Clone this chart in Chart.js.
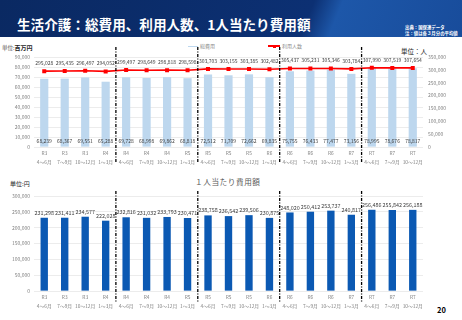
<!DOCTYPE html>
<html>
<head>
<meta charset="utf-8">
<script src="https://cdn.jsdelivr.net/npm/chart.js@4.4.0/dist/chart.umd.min.js"></script>
<style>
  html, body { margin: 0; padding: 0; }
  body { width: 462px; height: 320px; position: relative; overflow: hidden; background: #fff;
         font-family: "Noto Sans CJK JP", "Noto Sans", sans-serif; }
  .header { position: absolute; left: 0; top: 0; width: 462px; height: 37px;
            background: linear-gradient(112deg, #0a2962 0%, #0c3073 66%, #1d57a9 72%, #184c9b 100%); }
  .title { position: absolute; left: 17px; top: 14px; color: #fff; font-size: 13.6px; font-weight: bold; white-space: nowrap; }
  .src { position: absolute; left: 405px; color: #fff; font-size: 4.4px; font-weight: bold; white-space: nowrap; }
  .txt { position: absolute; white-space: nowrap; }
  canvas { position: absolute; left: 0; }
</style>
</head>
<body>
<div class="header">
  <div class="title">生活介護：総費用、利用人数、1人当たり費用額</div>
  <div class="src" style="top:24px">出典：国保連データ</div>
  <div class="src" style="top:30px">注：値は各３月分の平均値</div>
</div>

<div class="txt" style="left:2px;top:43px;font-size:5.5px;color:#595959">単位:<b style="color:#262626;font-size:6px">百万円</b></div>
<div class="txt" style="left:188px;top:45.5px;width:10px;height:1.6px;background:#bdd7ee"></div>
<div class="txt" style="left:200px;top:42px;font-size:5px;color:#8c8c8c">総費用</div>
<div class="txt" style="left:268px;top:45.3px;width:12px;height:1.6px;background:#ff0000"></div>
<div class="txt" style="left:272.5px;top:44.5px;width:3px;height:3px;background:#ff0000"></div>
<div class="txt" style="left:282px;top:42px;font-size:5px;color:#8c8c8c">利用人数</div>
<div class="txt" style="left:401px;top:46px;font-size:6.5px;color:#262626">単位：人</div>

<div class="txt" style="left:10px;top:179px;font-size:6px;color:#262626">単位:円</div>
<div class="txt" style="left:195px;top:176px;font-size:7.6px;color:#595959;letter-spacing:0.6px">１人当たり費用額</div>
<div class="txt" style="left:437px;top:304px;font-size:7.5px;font-weight:bold;color:#000">20</div>

<canvas id="topChart" width="462" height="130" style="top:40px"></canvas>
<canvas id="bottomChart" width="462" height="148" style="top:172px"></canvas>

<script>
const eras = ['R3', 'R3', 'R3', 'R4', 'R4', 'R4', 'R4', 'R5', 'R5', 'R5', 'R5', 'R6', 'R6', 'R6', 'R6', 'R7', 'R7', 'R7', 'R7'];
const periods = ['4～6月', '7～9月', '10～12月', '1～3月', '4～6月', '7～9月', '10～12月', '1～3月',
                 '4～6月', '7～9月', '10～12月', '1～3月', '4～6月', '7～9月', '10～12月', '1～3月',
                 '4～6月', '7～9月', '10～12月'];
const totalCost = [68239, 68367, 69551, 65288, 69728, 68998, 69862, 68818, 72512, 71709, 72662, 69835,
                   75755, 76433, 77477, 73156, 78995, 78676, 78817];
const users = [295028, 295435, 296497, 294052, 299497, 298649, 298818, 298598, 303703, 303155, 303385, 302482,
               305437, 305231, 305346, 303784, 307990, 307519, 307654];
const costPerUser = [231298, 231411, 234577, 222028, 232816, 231032, 233793, 230471, 238758, 236542, 239506, 230875,
                     248020, 250412, 253737, 240817, 256486, 255842, 256188];
const yearBreaks = [3, 7, 11, 15];   // separator after these indexes

const fmt = v => v.toLocaleString('en-US');
const FONT = '"Noto Sans CJK JP", "Noto Sans", sans-serif';

// dash-dot lines between fiscal years
const separators = {
    id: 'separators',
    afterDatasetsDraw(chart, args, opts) {
        const ctx = chart.ctx;
        const x = chart.scales.x;
        ctx.save();
        ctx.strokeStyle = '#000';
        ctx.lineWidth = 1.3;
        ctx.setLineDash([3, 1.5, 1, 1.5]);
        yearBreaks.forEach(i => {
            const px = (x.getPixelForValue(i) + x.getPixelForValue(i + 1)) / 2;
            ctx.beginPath();
            ctx.moveTo(px, opts.top);
            ctx.lineTo(px, opts.bottom);
            ctx.stroke();
        });
        ctx.restore();
    }
};

// value labels
const valueLabels = {
    id: 'valueLabels',
    afterDatasetsDraw(chart, args, opts) {
        const ctx = chart.ctx;
        ctx.save();
        ctx.textAlign = 'center';
        ctx.textBaseline = 'middle';
        chart.data.datasets.forEach((ds, di) => {
            const meta = chart.getDatasetMeta(di);
            meta.data.forEach((el, i) => {
                ctx.font = opts.size + 'px ' + FONT;
                ctx.fillStyle = opts.color;
                let y;
                if (opts.mode === 'bottom' && meta.type === 'bar') {
                    y = chart.chartArea.bottom - 6;
                } else {
                    y = el.y - (meta.type === 'line' ? 8 : 5);
                }
                ctx.fillText(fmt(ds.data[i]), el.x, y);
            });
        });
        ctx.restore();
    }
};

const tickFont = { size: 4.8, family: FONT, lineHeight: 1.2 };

// era row and period row, two stacked category axes
const xScales = () => ({
    x: {
        grid: { display: false, drawTicks: false },
        border: { display: false },
        ticks: { autoSkip: false, maxRotation: 0, padding: 3, color: '#7f7f7f', font: tickFont },
        afterFit: s => { s.height = 9; }
    },
    x2: {
        type: 'category',
        labels: periods,
        position: 'bottom',
        grid: { display: false, drawTicks: false },
        border: { display: false },
        ticks: { autoSkip: false, maxRotation: 0, padding: 3.5, color: '#7f7f7f', font: tickFont },
        afterFit: s => { s.height = 9; }
    }
});

new Chart(document.querySelector('#topChart').getContext('2d'), {
    type: 'bar',
    data: {
        labels: eras,
        datasets: [
            {
                type: 'line',
                label: '利用人数',
                data: users,
                yAxisID: 'y1',
                borderColor: '#ff0000',
                borderWidth: 1.6,
                pointStyle: 'rect',
                pointRadius: 1.7,
                pointBackgroundColor: '#ff0000',
                pointBorderColor: '#ff0000',
                order: 0
            },
            {
                label: '総費用',
                data: totalCost,
                yAxisID: 'y',
                backgroundColor: '#bdd7ee',
                categoryPercentage: 0.8,
                barPercentage: 0.5,
                order: 1
            }
        ]
    },
    options: {
        responsive: false,
        animation: false,
        layout: { padding: { top: 17, bottom: 5, left: 0, right: 0 } },
        plugins: {
            legend: { display: false },
            tooltip: { enabled: false },
            separators: { top: 7, bottom: 123 },
            valueLabels: { mode: 'bottom', size: 5, color: '#404040' }
        },
        scales: {
            ...xScales(),
            y: {
                min: 0, max: 90000,
                border: { display: false },
                grid: { color: '#e4e4e4', lineWidth: 0.7, drawTicks: false },
                ticks: { stepSize: 10000, padding: 4, color: '#7f7f7f', font: { size: 5, family: FONT }, callback: fmt },
                afterFit: s => { s.width = 34; }
            },
            y1: {
                position: 'right',
                min: 0, max: 350000,
                border: { display: false },
                grid: { display: false, drawTicks: false },
                ticks: { stepSize: 50000, padding: 5, color: '#7f7f7f', font: { size: 5, family: FONT }, callback: fmt },
                afterFit: s => { s.width = 39; }
            }
        }
    },
    plugins: [separators, valueLabels]
});

new Chart(document.querySelector('#bottomChart').getContext('2d'), {
    type: 'bar',
    data: {
        labels: eras,
        datasets: [{
            label: '1人当たり費用額',
            data: costPerUser,
            backgroundColor: '#0b59b3',
            categoryPercentage: 0.8,
            barPercentage: 0.45
        }]
    },
    options: {
        responsive: false,
        animation: false,
        layout: { padding: { top: 24, bottom: 11, left: 0, right: 0 } },
        plugins: {
            legend: { display: false },
            tooltip: { enabled: false },
            separators: { top: 19, bottom: 130 },
            valueLabels: { mode: 'top', size: 5.4, color: '#404040' }
        },
        scales: {
            ...xScales(),
            y: {
                min: 0, max: 300000,
                border: { display: false },
                grid: { color: '#e4e4e4', lineWidth: 0.7, drawTicks: false },
                ticks: { stepSize: 50000, padding: 4, color: '#7f7f7f', font: { size: 5, family: FONT }, callback: fmt },
                afterFit: s => { s.width = 34; }
            },
            y1: {
                display: true,
                position: 'right',
                grid: { display: false },
                border: { display: false },
                ticks: { display: false },
                afterFit: s => { s.width = 39; }
            }
        }
    },
    plugins: [separators, valueLabels]
});
</script>
</body>
</html>
